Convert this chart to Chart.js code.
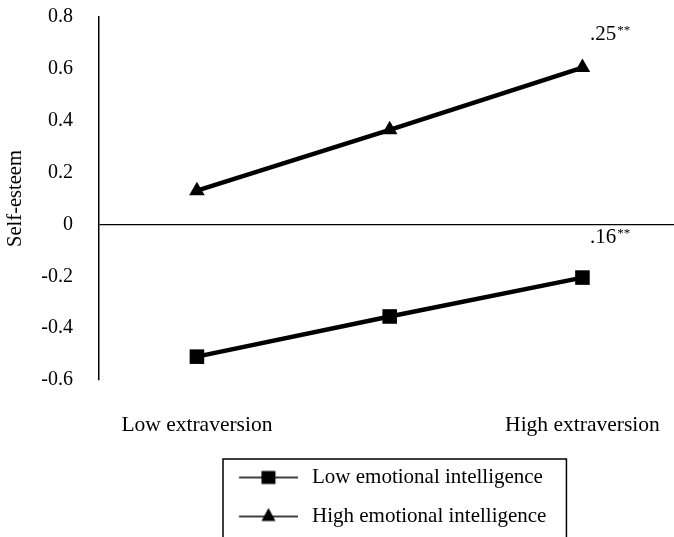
<!DOCTYPE html>
<html><head><meta charset="utf-8">
<script src="https://cdn.jsdelivr.net/npm/chart.js@4.4.1/dist/chart.umd.min.js"></script>
<style>html,body{margin:0;padding:0;background:#fff;overflow:hidden}</style>
</head><body>
<canvas id="c" width="674" height="537"></canvas>
<script>
// ---- data ----
const categories = ['Low extraversion', '', 'High extraversion'];
const seriesNames = ['Low emotional intelligence', 'High emotional intelligence'];
const lowEI = [-0.51, -0.355, -0.205];
const highEI = [0.13, 0.365, 0.605];
const yTickValues = [-0.6, -0.4, -0.2, 0, 0.2, 0.4, 0.6, 0.8];
const slopeLabels = ['.16', '.25'];
const slopeMark = '**';
const yTitle = 'Self-esteem';

// ---- styles ----
const FONT = '"Liberation Serif", "Times New Roman", serif';
Chart.defaults.color = '#000';
Chart.defaults.font.family = FONT;

function sampleImage(kind) {
  const W = 178, H = 22, cy = 11, mx = 148.25;
  const c = document.createElement('canvas');
  c.width = W; c.height = H;
  const g = c.getContext('2d');
  g.strokeStyle = '#000'; g.fillStyle = '#000'; g.lineWidth = 1.6;
  g.beginPath(); g.moveTo(118.75, cy); g.lineTo(178, cy); g.stroke();
  g.beginPath();
  if (kind === 'rect') {
    g.rect(mx - 7, cy - 6.5, 14, 13);
  } else {
    g.moveTo(mx, cy - 8.5); g.lineTo(mx + 7, cy + 4.5); g.lineTo(mx - 7, cy + 4.5); g.closePath();
  }
  g.fill();
  return c;
}
const legendImages = [sampleImage('rect'), sampleImage('triangle')];

const toPoints = arr => arr.map((v, i) => ({x: i, y: v}));

const legendBoxPlugin = {
  id: 'legendBox',
  afterDraw(chart) {
    const lg = chart.legend;
    if (!lg || !lg.legendHitBoxes.length) return;
    const hb = lg.legendHitBoxes;
    const left = hb[0].left + 106;
    const right = Math.max(...hb.map(h => h.left + h.width)) + 20;
    const top = hb[0].top - 8;
    const ctx = chart.ctx;
    ctx.save();
    ctx.strokeStyle = '#000'; ctx.lineWidth = 1.5;
    ctx.strokeRect(left, top, right - left, chart.height + 10 - top);
    ctx.restore();
  }
};

const slopePlugin = {
  id: 'slopeLabels',
  afterDatasetsDraw(chart) {
    const ctx = chart.ctx;
    const xs = chart.scales.x, ys = chart.scales.y;
    const offsets = [34.5, 27.5];
    ctx.save();
    ctx.fillStyle = '#000';
    ctx.textBaseline = 'alphabetic';
    chart.data.datasets.forEach((ds, i) => {
      const last = ds.data[ds.data.length - 1];
      const x = xs.getPixelForValue(last.x) + 7.5;
      const y = ys.getPixelForValue(last.y) - offsets[i];
      ctx.font = '21px ' + FONT;
      ctx.fillText(slopeLabels[i], x, y);
      const w = ctx.measureText(slopeLabels[i]).width;
      ctx.font = '13px ' + FONT;
      ctx.fillText(slopeMark, x + w + 1, y - 6);
    });
    ctx.restore();
  }
};

new Chart(document.getElementById('c'), {
  type: 'line',
  data: {
    datasets: [
      {
        label: seriesNames[0], data: toPoints(lowEI),
        borderColor: '#000', backgroundColor: '#000', borderWidth: 4.5,
        pointStyle: 'rect', pointRadius: 10.3, pointBorderWidth: 0,
        pointBackgroundColor: '#000', tension: 0
      },
      {
        label: seriesNames[1], data: toPoints(highEI),
        borderColor: '#000', backgroundColor: '#000', borderWidth: 4.5,
        pointStyle: 'triangle', pointRadius: 9, pointBorderWidth: 0,
        pointBackgroundColor: '#000', tension: 0
      }
    ]
  },
  options: {
    responsive: false, animation: false,
    layout: {autoPadding: false, padding: {top: 17, right: 0, left: 0, bottom: 0}},
    plugins: {
      tooltip: {enabled: false},
      legend: {
        position: 'bottom', align: 'start', fullSize: false,
        labels: {
          usePointStyle: true, pointStyleWidth: 184.5, boxHeight: 21,
          padding: 18, color: '#000',
          font: {family: FONT, size: 21},
          generateLabels: chart => chart.data.datasets.map((ds, i) => ({
            text: ds.label, pointStyle: legendImages[i], fillStyle: '#000',
            strokeStyle: '#000', lineWidth: 0, hidden: false, datasetIndex: i, fontColor: '#000'
          }))
        }
      }
    },
    scales: {
      x: {
        type: 'linear', min: -0.508, max: 2.475,
        afterBuildTicks: axis => { axis.ticks = categories.map((c, i) => ({value: i})); },
        afterFit: s => { s.height = 69; s.paddingLeft = 0; s.paddingRight = 0; },
        grid: {display: false, drawTicks: false},
        border: {display: false},
        ticks: {
          padding: 32, maxRotation: 0, autoSkip: false,
          font: {family: FONT, size: 21.5}, color: '#000',
          callback: v => categories[Math.round(v)] ?? ''
        }
      },
      y: {
        type: 'linear', min: yTickValues[0], max: yTickValues[yTickValues.length - 1],
        afterBuildTicks: axis => { axis.ticks = yTickValues.map(v => ({value: v})); },
        afterFit: s => { s.width = 99; s.paddingTop = 0; s.paddingBottom = 0; },
        border: {display: true, color: '#000', width: 1.5},
        grid: {
          drawTicks: false,
          color: ctx => (ctx.tick && Math.abs(ctx.tick.value) < 1e-9) ? '#000' : 'rgba(0,0,0,0)',
          lineWidth: 1.3
        },
        ticks: {
          padding: 26, font: {family: FONT, size: 20}, color: '#000',
          callback: v => Math.abs(v) < 1e-9 ? '0' : Number(v).toFixed(1)
        },
        title: {display: true, text: yTitle, font: {family: FONT, size: 20.5}, color: '#000', padding: 3}
      }
    }
  },
  plugins: [legendBoxPlugin, slopePlugin]
});
</script>
</body></html>
